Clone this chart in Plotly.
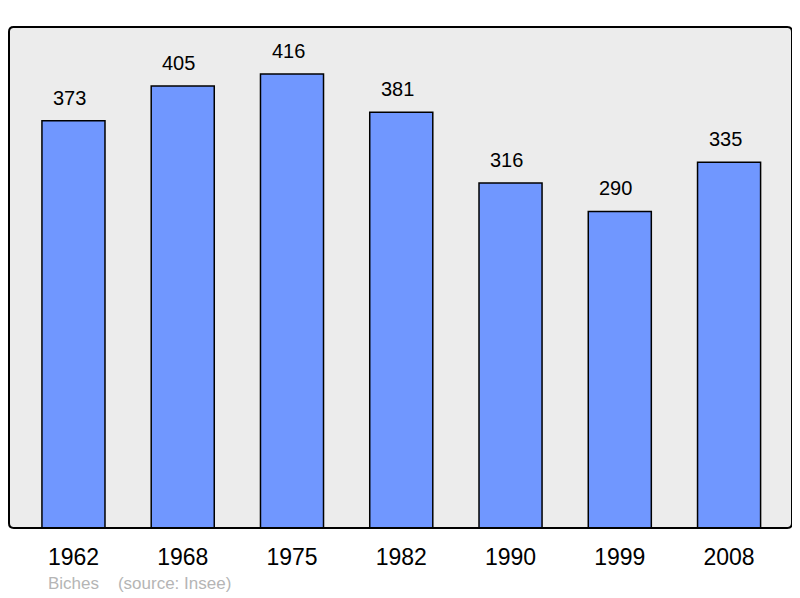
import plotly.graph_objects as go

years = ["1962", "1968", "1975", "1982", "1990", "1999", "2008"]
population = [373, 405, 416, 381, 316, 290, 335]
commune = "Biches"
source = "(source: Insee)"

positions = list(range(len(years)))

fig = go.Figure(
    go.Bar(
        x=positions,
        y=population,
        width=0.577,
        marker=dict(color="#7097ff", line=dict(color="black", width=1.5)),
        hoverinfo="skip",
    )
)

# value labels above each bar (sit a touch left of the bar centre)
for xp, val in zip(positions, population):
    fig.add_annotation(
        x=xp, y=val, text=str(val), showarrow=False,
        yanchor="bottom", yshift=10, xshift=-4,
        font=dict(family="Liberation Sans, Arial", size=20, color="black"),
    )

fig.add_annotation(
    xref="paper", yref="paper", x=0.047, y=-0.088,
    xanchor="left", yanchor="top", showarrow=False,
    text=commune + "&nbsp;&nbsp;&nbsp;&nbsp;" + source,
    font=dict(family="Liberation Sans, Arial", size=17, color="#b5b5b5"),
)

# frame round the plot area, with slightly rounded corners
r = 0.006
ry = r * 783 / 501
path = (
    f"M {r},0 L {1 - r},0 Q 1,0 1,{ry} L 1,{1 - ry} Q 1,1 {1 - r},1 "
    f"L {r},1 Q 0,1 0,{1 - ry} L 0,{ry} Q 0,0 {r},0 Z"
)
fig.add_shape(type="path", xref="paper", yref="paper", path=path,
              line=dict(color="black", width=2), layer="above")

# the page body adds an 8px offset, so margins are shifted to compensate
fig.update_layout(
    width=800, height=598,
    margin=dict(l=1, r=16, t=19, b=78),
    paper_bgcolor="white",
    plot_bgcolor="#ececec",
    showlegend=False,
    font=dict(family="Liberation Sans, Arial", color="black"),
    xaxis=dict(
        range=[-0.59, 6.576],
        tickmode="array", tickvals=positions, ticktext=years,
        tickfont=dict(size=23), ticks="", showgrid=False, zeroline=False,
        ticklabelstandoff=13,
    ),
    yaxis=dict(range=[0, 459], visible=False, showgrid=False),
)

fig.write_html("out.html")
